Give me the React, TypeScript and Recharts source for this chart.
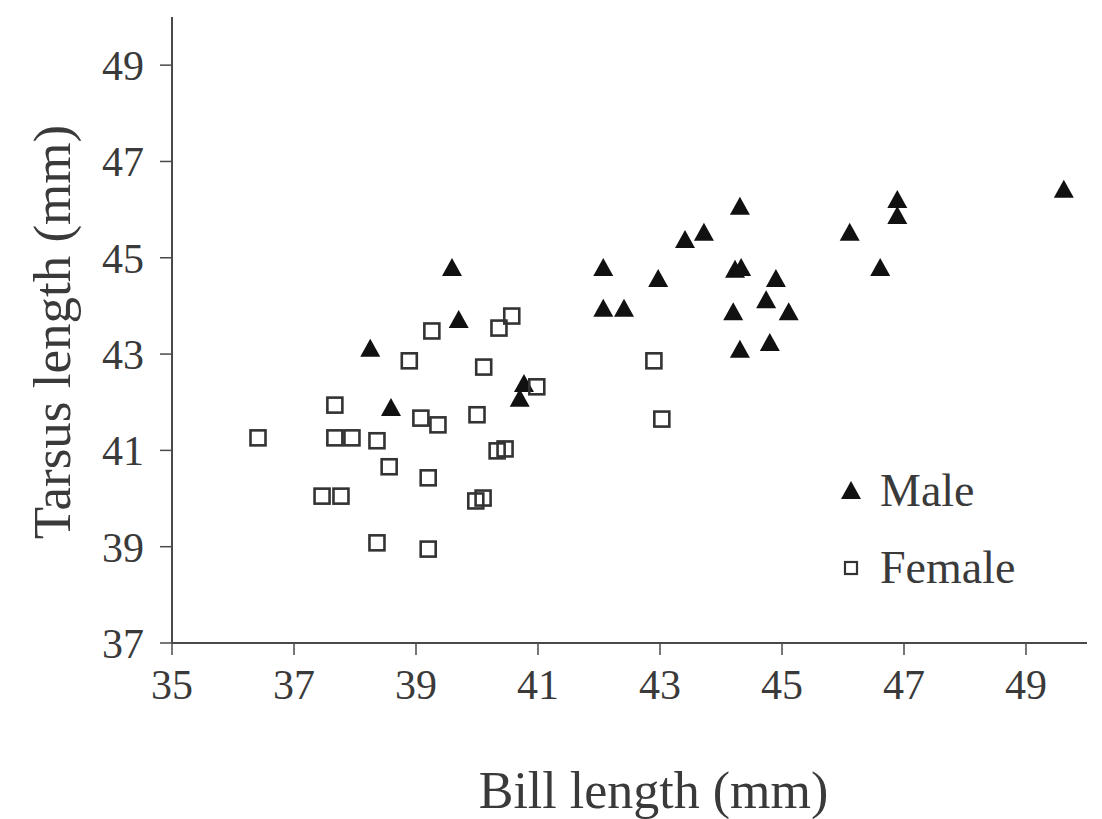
import React from 'react';
import { ScatterChart, Scatter, XAxis, YAxis, Legend, Label } from 'recharts';

const maleBill = [39.59, 39.7, 38.25, 38.59, 40.77, 40.7, 42.07, 42.07, 42.41, 42.97, 43.41, 43.72, 44.31, 44.23, 44.33, 44.2, 44.31, 44.74, 44.9, 44.8, 45.11, 46.61, 46.11, 46.89, 46.89, 49.62];
const maleTarsus = [44.79, 43.71, 43.11, 41.88, 42.38, 42.07, 44.79, 43.94, 43.94, 44.56, 45.37, 45.52, 46.06, 44.75, 44.79, 43.87, 43.09, 44.12, 44.56, 43.23, 43.87, 44.79, 45.52, 46.2, 45.87, 46.41];

const femaleBill = [36.41, 37.67, 37.67, 37.95, 38.36, 38.56, 37.46, 37.77, 38.36, 38.89, 39.26, 39.08, 39.36, 39.2, 39.2, 40.11, 40.0, 40.36, 40.57, 40.98, 40.33, 40.46, 39.98, 40.1, 42.9, 43.03];
const femaleTarsus = [41.26, 41.94, 41.26, 41.26, 41.2, 40.66, 40.05, 40.05, 39.08, 42.86, 43.48, 41.67, 41.53, 40.43, 38.95, 42.73, 41.74, 43.54, 43.79, 42.32, 40.99, 41.03, 39.95, 40.01, 42.86, 41.65];

const xTicks = [35, 37, 39, 41, 43, 45, 47, 49];
const yTicks = [37, 39, 41, 43, 45, 47, 49];
const legendOrder = ['Male', 'Female'];

const maleData = maleBill.map((x, i) => ({ x, y: maleTarsus[i] }));
const femaleData = femaleBill.map((x, i) => ({ x, y: femaleTarsus[i] }));

const FONT = '"Liberation Serif", "Times New Roman", serif';
const TEXT = '#3a3a3a';
const AXIS = '#4a4a4a';

const Triangle = (props: any) => {
  const { cx, cy } = props;
  return <polygon points={`${cx},${cy - 10} ${cx - 10},${cy + 8} ${cx + 10},${cy + 8}`} fill="#111" />;
};

const Square = (props: any) => {
  const { cx, cy } = props;
  return <rect x={cx - 7.5} y={cy - 7.5} width={15} height={15} fill="none" stroke="#333" strokeWidth={2.6} />;
};

const LegendContent = (props: any) => {
  const { payload } = props;
  const items = [...(payload || [])].sort(
    (a: any, b: any) => legendOrder.indexOf(a.value) - legendOrder.indexOf(b.value)
  );
  return (
    <div style={{ fontFamily: FONT, color: TEXT, fontSize: 46 }}>
      {items.map((item: any) => (
        <div key={item.value} style={{ display: 'flex', alignItems: 'center', height: 77 }}>
          <svg width={44} height={30}>
            {item.value === 'Male' ? (
              <polygon points="15,5 5,23 25,23" fill="#111" />
            ) : (
              <rect x={9} y={9} width={12} height={12} fill="none" stroke="#333" strokeWidth={2.2} />
            )}
          </svg>
          <span style={{ lineHeight: 1 }}>{item.value}</span>
        </div>
      ))}
    </div>
  );
};

const XTitle = (props: any) => {
  const { viewBox } = props;
  return (
    <text x={viewBox.x + viewBox.width / 2 + 24} y={808} textAnchor="middle" fontFamily={FONT} fontSize={52} fill={TEXT}>
      Bill length (mm)
    </text>
  );
};

const YTitle = (props: any) => {
  const { viewBox } = props;
  const x = 70;
  const y = viewBox.y + viewBox.height / 2 + 2;
  return (
    <text x={x} y={y} transform={`rotate(-90, ${x}, ${y})`} textAnchor="middle" fontFamily={FONT} fontSize={53} fill={TEXT}>
      Tarsus length (mm)
    </text>
  );
};

export default function App() {
  return (
    <div style={{ position: 'absolute', left: 0, top: 0, background: '#fff' }}>
      <ScatterChart width={1102} height={819} margin={{ top: 17, right: 15, left: 0, bottom: 0 }}>
        <XAxis
          type="number"
          dataKey="x"
          domain={[35, 50]}
          ticks={xTicks}
          allowDataOverflow
          height={176}
          tickSize={12}
          tickMargin={14}
          axisLine={{ stroke: AXIS, strokeWidth: 2 }}
          tickLine={{ stroke: AXIS, strokeWidth: 1.5 }}
          tick={{ fontFamily: FONT, fontSize: 42, fill: TEXT }}
        >
          <Label content={<XTitle />} />
        </XAxis>
        <YAxis
          type="number"
          dataKey="y"
          domain={[37, 50]}
          ticks={yTicks}
          allowDataOverflow
          width={172}
          tickSize={12}
          tickMargin={16}
          axisLine={{ stroke: AXIS, strokeWidth: 2 }}
          tickLine={{ stroke: AXIS, strokeWidth: 1.5 }}
          tick={{ fontFamily: FONT, fontSize: 42, fill: TEXT }}
        >
          <Label content={<YTitle />} />
        </YAxis>
        <Legend
          layout="vertical"
          align="center"
          verticalAlign="middle"
          content={<LegendContent />}
          wrapperStyle={{ left: 836, top: 452, width: 260 }}
        />
        <Scatter name="Male" data={maleData} fill="#111" shape={<Triangle />} isAnimationActive={false} />
        <Scatter name="Female" data={femaleData} fill="#333" shape={<Square />} isAnimationActive={false} />
      </ScatterChart>
    </div>
  );
}
